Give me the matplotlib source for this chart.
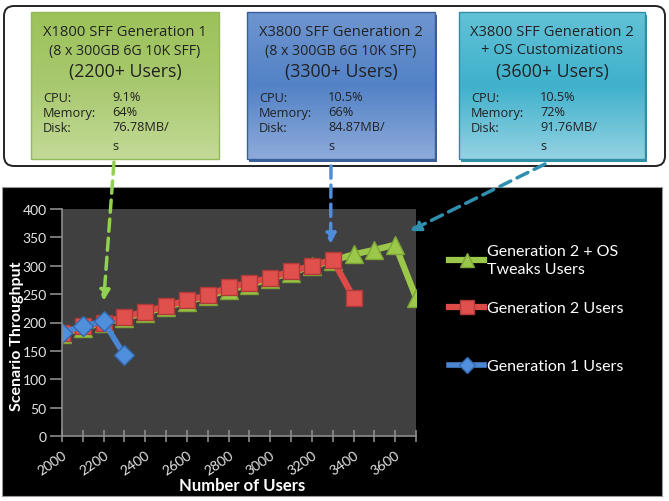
import numpy as np
import matplotlib
matplotlib.use('Agg')
import matplotlib.pyplot as plt
from matplotlib.patches import Rectangle, FancyBboxPatch

# data
users = [2000, 2100, 2200, 2300, 2400, 2500, 2600, 2700, 2800,
         2900, 3000, 3100, 3200, 3300, 3400, 3500, 3600, 3700]
gen1 = [182, 194, 202, 142]
gen2 = [181, 193, 200, 210, 219, 229, 239, 248, 262, 270, 279, 290, 300, 311, 244]
gen2_os = [180, 191, 199, 208, 217, 227, 237, 246, 258, 266, 277, 288, 299, 309,
           320, 328, 337, 244]

box_titles = [
    ["X1800 SFF Generation 1", "(8 x 300GB 6G 10K SFF)"],
    ["X3800 SFF Generation 2", "(8 x 300GB 6G 10K SFF)"],
    ["X3800 SFF Generation 2", "+ OS Customizations"],
]
box_users = ["(2200+ Users)", "(3300+ Users)", "(3600+ Users)"]
stat_names = ["CPU:", "Memory:", "Disk:"]
box_stats = [["9.1%", "64%", "76.78MB/\ns"],
             ["10.5%", "66%", "84.87MB/\ns"],
             ["10.5%", "72%", "91.76MB/\ns"]]

W, H = 669, 502
fig = plt.figure(figsize=(W / 100, H / 100), dpi=100)
fig.patch.set_facecolor('white')

# background layer in pixel coords
bg = fig.add_axes([0, 0, 1, 1], zorder=0)
bg.axis('off')

bg.add_patch(FancyBboxPatch((4, 7), 661, 160, boxstyle='round,pad=0,rounding_size=10',
                            fc='white', ec='#222222', lw=1.4))
bg.add_patch(Rectangle((2, 188), 660, 309, fc='black', ec='#999999', lw=0.8))

boxes = [(31, 13, 188, 147), (247, 13, 188, 147), (459, 13, 186, 147)]
grads = [
    ['#9cc25a', '#a9c96f', '#c3da97'],
    ['#6f95d0', '#5282c6', '#8eaada'],
    ['#62c2d7', '#3fb1cc', '#93d2e2'],
]
edges = ['#93b85a', '#3a5f97', '#2f8ea6']
shadow = [False, True, True]

def vgrad(stops, n=100):
    cols = np.array([matplotlib.colors.to_rgb(c) for c in stops])
    t = np.linspace(0, 1, n)
    pos = np.linspace(0, 1, len(stops))
    arr = np.stack([np.interp(t, pos, cols[:, k]) for k in range(3)], axis=1)
    return arr[:, None, :]

txt = dict(family='Open Sans', color='#222222', zorder=4)
for i, (x0, y0, w, h) in enumerate(boxes):
    if shadow[i]:
        bg.add_patch(Rectangle((x0 + 1.5, y0 + 3), w, h, fc=edges[i], ec='none', zorder=1))
    bg.imshow(vgrad(grads[i]), extent=(x0, x0 + w, y0 + h, y0), aspect='auto',
              origin='upper', zorder=2)
    bg.add_patch(Rectangle((x0, y0), w, h, fc='none', ec=edges[i], lw=1.0, zorder=3))
    cx = x0 + w / 2
    bg.text(cx, 32, box_titles[i][0], ha='center', va='center', fontsize=10.6, **txt)
    bg.text(cx, 51, box_titles[i][1], ha='center', va='center',
            fontsize=10.6 if i == 2 else 10.2, **txt)
    bg.text(cx, 72, box_users[i], ha='center', va='center', fontsize=12.8, **txt)
    for j, (nm, val) in enumerate(zip(stat_names, box_stats[i])):
        yy = 98 + 15 * j
        bg.text(x0 + 12, yy, nm, ha='left', va='center', fontsize=9.2, **txt)
        bg.text(x0 + 81, yy - 7, val, ha='left', va='top', fontsize=9.2,
                linespacing=1.65, **txt)

bg.set_xlim(0, W)
bg.set_ylim(H, 0)

# chart
ax = fig.add_axes([62 / W, (H - 437) / H, 354 / W, 227 / H], zorder=1)
ax.set_facecolor('#404040')
x = np.arange(len(users))

green, red, blue = '#9bc84a', '#dc4b48', '#4a86d3'
l3 = ax.plot(x[:len(gen2_os)], gen2_os, color=green, lw=4.5, marker='^', ms=13,
             mfc=green, mec='#7da536', label='Generation 2 + OS\nTweaks Users')[0]
l2 = ax.plot(x[:len(gen2)], gen2, color=red, lw=4.5, marker='s', ms=12,
             mfc='#e0504c', mec='#b03a37', label='Generation 2 Users')[0]
l1 = ax.plot(x[:len(gen1)], gen1, color=blue, lw=4, marker='D', ms=10,
             mfc='#4f8fdc', mec='#3468ad', label='Generation 1 Users')[0]

ax.set_xlim(0, len(users) - 1)
ax.set_ylim(0, 400)
ax.set_yticks(range(0, 401, 50))
ax.set_xticks(x)
ax.set_xticklabels([str(u) if u % 200 == 0 else '' for u in users],
                   rotation=35, ha='right', rotation_mode='anchor')
for s in ['top', 'right']:
    ax.spines[s].set_visible(False)
for s in ['left', 'bottom']:
    ax.spines[s].set_color('#8c8c8c')
    ax.spines[s].set_linewidth(1.2)
ax.tick_params(colors='#8c8c8c', width=1.2, labelcolor='#e6e6e6', labelsize=10)
ax.tick_params(axis='x', direction='inout', length=8, pad=5)
ax.tick_params(axis='y', direction='out', length=9, pad=2)
for lab in ax.get_xticklabels() + ax.get_yticklabels():
    lab.set_family('Lato')
ax.set_xlabel('Number of Users', color='white', fontsize=12, fontweight='bold',
              family='Lato')
ax.set_ylabel('Scenario Throughput', color='white', fontsize=11.5, fontweight='bold',
              family='Lato')
ax.xaxis.set_label_coords((242 - 62) / 354, -(486 - 437) / 227)
ax.yaxis.set_label_coords(-(62 - 17) / 354, (437 - 336) / 227)
ax.xaxis.label.set_va('center')
ax.yaxis.label.set_va('center')

# legend entries placed one by one, as in the original
entries = [(l3, 261), (l2, 309), (l1, 367)]
for k, (ln, yc) in enumerate(entries):
    leg = ax.legend([ln], [ln.get_label()], loc='center left',
                    bbox_to_anchor=(441 / W, (H - yc) / H),
                    bbox_transform=fig.transFigure, frameon=False, labelcolor='white',
                    prop={'family': 'Lato', 'size': 11.5}, handlelength=2.2,
                    handletextpad=0.15, markerscale=0.8, borderpad=0)
    for t in leg.get_texts():
        t.set_linespacing(1.45)
    if k < len(entries) - 1:
        ax.add_artist(leg)

# dashed callout arrows from the boxes to the points
arrows = [((114, H - 163), (2, 238), '#92d050'),
          ((331, H - 167), (12.9, 338), '#4f8ddc'),
          ((545, H - 165), (16.7, 361), '#2f8fae')]
for start, end, c in arrows:
    ax.annotate('', xy=end, xycoords='data', xytext=start, textcoords='figure pixels',
                annotation_clip=False, zorder=10,
                arrowprops=dict(arrowstyle='-|>,head_length=0.6,head_width=0.3',
                                color=c, lw=2.5, linestyle=(0, (3.5, 2)),
                                shrinkA=0, shrinkB=0))

fig.savefig('out.png', dpi=100)
